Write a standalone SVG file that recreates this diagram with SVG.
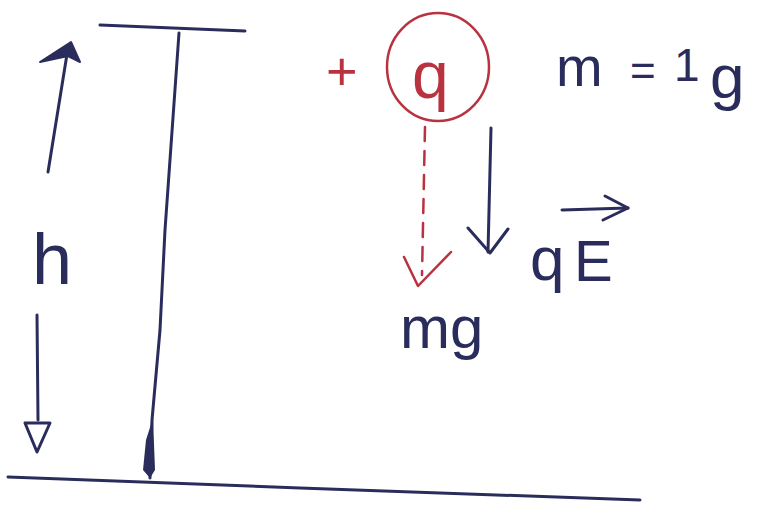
<svg xmlns="http://www.w3.org/2000/svg" width="759" height="505" viewBox="0 0 759 505">
<style>
.ink{fill:none;stroke:#2a2d5c;stroke-width:3;stroke-linecap:round;stroke-linejoin:round}
.red{fill:none;stroke:#b8323f;stroke-width:2.5;stroke-linecap:round;stroke-linejoin:round}
.t{font-family:"Liberation Sans","DejaVu Sans",sans-serif;fill:#2a2d5c}
.tr{font-family:"Liberation Sans","DejaVu Sans",sans-serif;fill:#b8323f}
</style>
<rect width="759" height="505" fill="#ffffff"/>
<g id="ground">
<path class="ink" d="M8,477 L300,488 L640,500" stroke-width="2.5"/>
</g>
<g id="top-line">
<path class="ink" d="M100,25 L245,31" stroke-width="2.5"/>
</g>
<g id="drop-line">
<path class="ink" d="M179,33 L165,230 L160,330 L152,420 L150,478" stroke-width="2.5"/>
<path d="M146,440 L153,418 L155,470 L150,478 L143,470 Z" fill="#2a2d5c"/>
</g>
<g id="h-label">
<text class="t" x="32" y="284" font-size="72">h</text>
</g>
<g id="charge">
<text class="tr" x="326" y="90" font-size="54">+</text>
<ellipse class="red" cx="438" cy="67" rx="51" ry="54"/>
<text class="tr" x="412" y="98" font-size="66">q</text>
</g>
<g id="mass">
<text class="t" x="556" y="86" font-size="56">m</text>
<text class="t" x="630" y="86" font-size="44">=</text>
<text class="t" x="674" y="81" font-size="46">1</text>
<text class="t" x="710" y="98" font-size="62">g</text>
</g>
<g id="qE-label">
<text class="t" x="530" y="280" font-size="62">q</text>
<text class="t" x="574" y="281" font-size="58">E</text>
</g>
<g id="mg-label">
<text class="t" x="400" y="348" font-size="60">mg</text>
</g>
<g id="connectors">
<path class="ink" d="M48,172 L68,48"/>
<path d="M40,62 L71,42 L80,62 L68,56 Z" fill="#2a2d5c" stroke="#2a2d5c" stroke-width="2" stroke-linejoin="round"/>
<path class="ink" d="M37,315 L38,420"/>
<path class="ink" d="M25,423 L50,423 L37,452 Z"/>
<path class="red" d="M425,127 L422,275" stroke-dasharray="14,10"/>
<path class="red" d="M404,257 L418,286 L451,252"/>
<path class="ink" d="M491,128 L488,252"/>
<path class="ink" d="M468,228 L490,253 L508,229"/>
<path class="ink" d="M562,210 L628,208" stroke-width="2.5"/>
<path class="ink" d="M605,196 L628,208 L603,220" stroke-width="2.5"/>
</g>
</svg>
